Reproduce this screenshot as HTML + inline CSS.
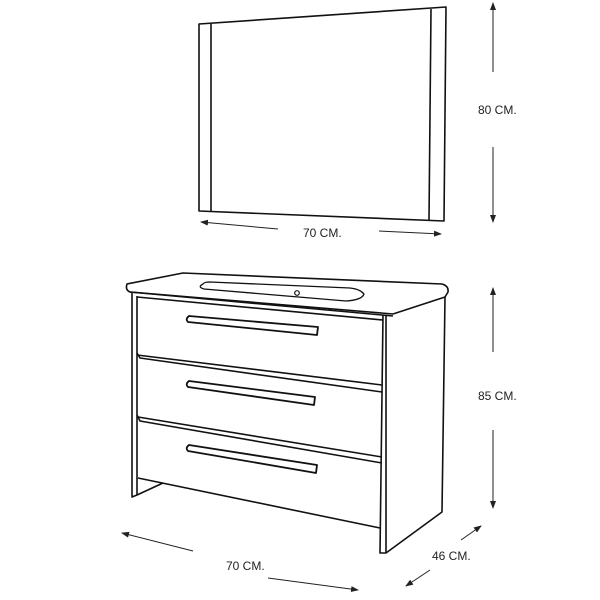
<!DOCTYPE html>
<html><head><style>
html,body{margin:0;padding:0;background:#fff;}
svg{display:block}
text{font-family:"Liberation Sans",sans-serif;font-size:12px;fill:#222;}
</style></head><body>
<svg width="600" height="600" viewBox="0 0 600 600">
<defs>
<marker id="a" markerWidth="8" markerHeight="6" refX="7" refY="3" orient="auto" markerUnits="userSpaceOnUse"><path d="M0,0 L8,3 L0,6 Z" fill="#222"/></marker>
</defs>
<g fill="none" stroke="#111" stroke-width="1.6" stroke-linejoin="round">
<path d="M199,24 L446,7 L444,221 L199,211 Z"/>
<line x1="211" y1="24" x2="211" y2="212"/>
<line x1="431" y1="9" x2="429" y2="220"/>
<path d="M127,284 L183,273 L442,284 Q449,286 448,292 L445,297 L393,314 L130,292 Q125,290 127,284 Z"/>
<path d="M130,292 L393,316"/>
<path d="M203,284 Q197,287 204,289 L346,301 Q362,300 364,294 Q360,289 350,288 L210,282 Q204,282 203,284 Z" stroke-width="1.3"/>
<circle cx="297" cy="293" r="2.3" stroke-width="1.2"/>
<path d="M132,293 L132,497 L137,495 L137,296"/>
<path d="M137,495 L163,483"/>
<path d="M383,315 L380,553 L386,553 L442,512 L445,297"/>
<line x1="386" y1="316" x2="386" y2="553"/>
<path d="M137,297 L383,320"/>
<path d="M137,355 L382,385"/>
<path d="M137,353 L140,358 L382,392"/>
<path d="M138,417 L382,457"/>
<path d="M137,415 L140,421 L382,463"/>
<path d="M138,478 L380,528"/>
<path d="M189,316 L318,327 L317,335 L188,322 Q185,319 189,316 Z" stroke-width="1.8"/>
<path d="M189,381 L315,397 L314,405 L188,387 Q185,384 189,381 Z" stroke-width="1.8"/>
<path d="M189,445 L317,465 L316,473 L188,451 Q185,448 189,445 Z" stroke-width="1.8"/>
</g>
<g stroke="#222" stroke-width="1" fill="none">
<line x1="493" y1="72" x2="493" y2="3" marker-end="url(#a)"/>
<line x1="493" y1="147" x2="493" y2="222" marker-end="url(#a)"/>
<line x1="278" y1="229" x2="201" y2="222" marker-end="url(#a)"/>
<line x1="379" y1="231" x2="441" y2="234" marker-end="url(#a)"/>
<line x1="493" y1="352" x2="493" y2="288" marker-end="url(#a)"/>
<line x1="493" y1="430" x2="493" y2="508" marker-end="url(#a)"/>
<line x1="193" y1="551" x2="122" y2="533" marker-end="url(#a)"/>
<line x1="268" y1="578" x2="358" y2="590" marker-end="url(#a)"/>
<line x1="461" y1="540" x2="481" y2="526" marker-end="url(#a)"/>
<line x1="430" y1="570" x2="406" y2="586" marker-end="url(#a)"/>
</g>
<text x="478" y="114">80 CM.</text>
<text x="303" y="237">70 CM.</text>
<text x="478" y="400">85 CM.</text>
<text x="226" y="570">70 CM.</text>
<text x="432" y="560">46 CM.</text>
</svg>
</body></html>
